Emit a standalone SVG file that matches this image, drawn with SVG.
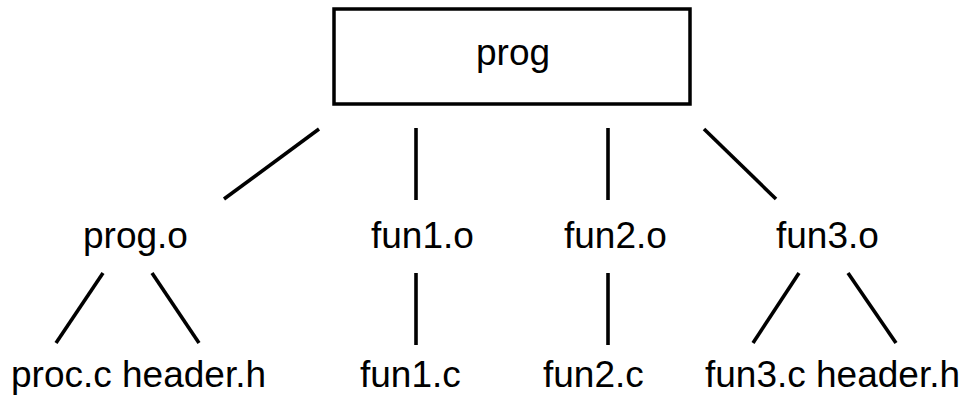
<svg xmlns="http://www.w3.org/2000/svg" width="969" height="396" viewBox="0 0 969 396">
<style>
text { font-family: "Liberation Sans", Arial, sans-serif; font-size: 37px; fill: #000; }
.box { fill: #fff; stroke: #000; stroke-width: 3.5; }
.edge { stroke: #000; stroke-width: 3.6; fill: none; }
</style>
<rect width="969" height="396" fill="#fff"/>
<g id="prog">
  <rect class="box" x="334" y="9" width="356" height="95"/>
  <text x="476" y="65">prog</text>
</g>
<g id="prog_o"><text x="83" y="248">prog.o</text></g>
<g id="fun1_o"><text x="371" y="248">fun1.o</text></g>
<g id="fun2_o"><text x="564" y="248">fun2.o</text></g>
<g id="fun3_o"><text x="776" y="248">fun3.o</text></g>
<g id="proc_c"><text x="11" y="387">proc.c</text></g>
<g id="header_h_1"><text x="122" y="387">header.h</text></g>
<g id="fun1_c"><text x="360" y="387">fun1.c</text></g>
<g id="fun2_c"><text x="543" y="387">fun2.c</text></g>
<g id="fun3_c"><text x="705" y="387">fun3.c</text></g>
<g id="header_h_2"><text x="816" y="387">header.h</text></g>
<g id="connectors">
  <line class="edge" x1="319" y1="129" x2="224" y2="199"/>
  <line class="edge" x1="416" y1="128" x2="416" y2="200"/>
  <line class="edge" x1="608" y1="128" x2="608" y2="200"/>
  <line class="edge" x1="704" y1="129" x2="776" y2="199"/>
  <line class="edge" x1="103" y1="273" x2="56" y2="343"/>
  <line class="edge" x1="152" y1="273" x2="199" y2="343"/>
  <line class="edge" x1="416" y1="273" x2="416" y2="345"/>
  <line class="edge" x1="608" y1="273" x2="608" y2="345"/>
  <line class="edge" x1="799" y1="273" x2="753" y2="343"/>
  <line class="edge" x1="848" y1="273" x2="896" y2="343"/>
</g>
</svg>
